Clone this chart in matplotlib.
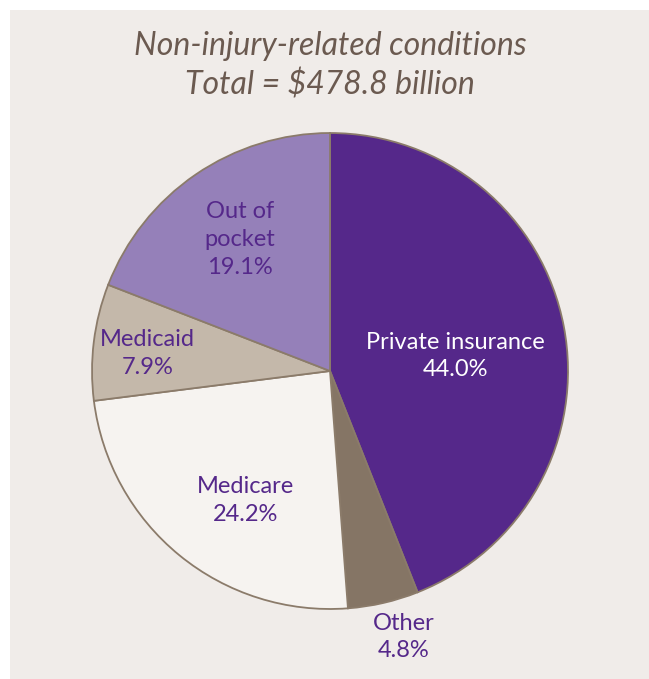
import matplotlib.pyplot as plt
import numpy as np

# payer shares, clockwise from 12 o'clock
labels = ['Private insurance', 'Other', 'Medicare', 'Medicaid', 'Out of\npocket']
shares = [44.0, 4.8, 24.2, 7.9, 19.1]
colors = ['#55288a', '#857565', '#f6f3f0', '#c4b8aa', '#9580b9']
text_colors = ['white', '#55288a', '#55288a', '#55288a', '#55288a']
# label placement relative to each wedge's middle: radius and angle nudge (deg)
label_r = [0.53, 1.16, 0.65, 0.77, 0.67]
label_da = [-4, 2.5, 6, 1.5, 0]

title = 'Non-injury-related conditions\nTotal = $478.8 billion'

bg = '#f0ece9'
edge = '#8b7b6a'
plt.rcParams['font.family'] = ['Lato', 'DejaVu Sans']

fig = plt.figure(figsize=(6.49, 6.79), dpi=100)
fig.patch.set_facecolor('white')
# tinted panel
fig.patches.append(plt.Rectangle((10 / 649, 0), 1, 1 - 10 / 679, transform=fig.transFigure,
                                 facecolor=bg, edgecolor='none', zorder=-5))

fig.text(0.5085, 0.903, title, ha='center', va='center', fontsize=23,
         style='italic', color='#6b5a50', linespacing=1.33)

ax = fig.add_axes([0.1418, 0.1031, 0.7334, 0.701])
wedges, _ = ax.pie(shares, colors=colors, startangle=90, counterclock=False,
                   radius=1, wedgeprops=dict(edgecolor=edge, linewidth=1.3))
ax.set_xlim(-1, 1)
ax.set_ylim(-1, 1)
ax.set_aspect('equal')
ax.axis('off')

for w, lab, val, tc, r, da in zip(wedges, labels, shares, text_colors, label_r, label_da):
    mid = np.deg2rad((w.theta1 + w.theta2) / 2 + da)
    ax.text(r * np.cos(mid), r * np.sin(mid), f'{lab}\n{val:.1f}%', ha='center',
            va='center', fontsize=17, color=tc, linespacing=1.4)

fig.savefig('out.png', dpi=100, facecolor=fig.get_facecolor())
